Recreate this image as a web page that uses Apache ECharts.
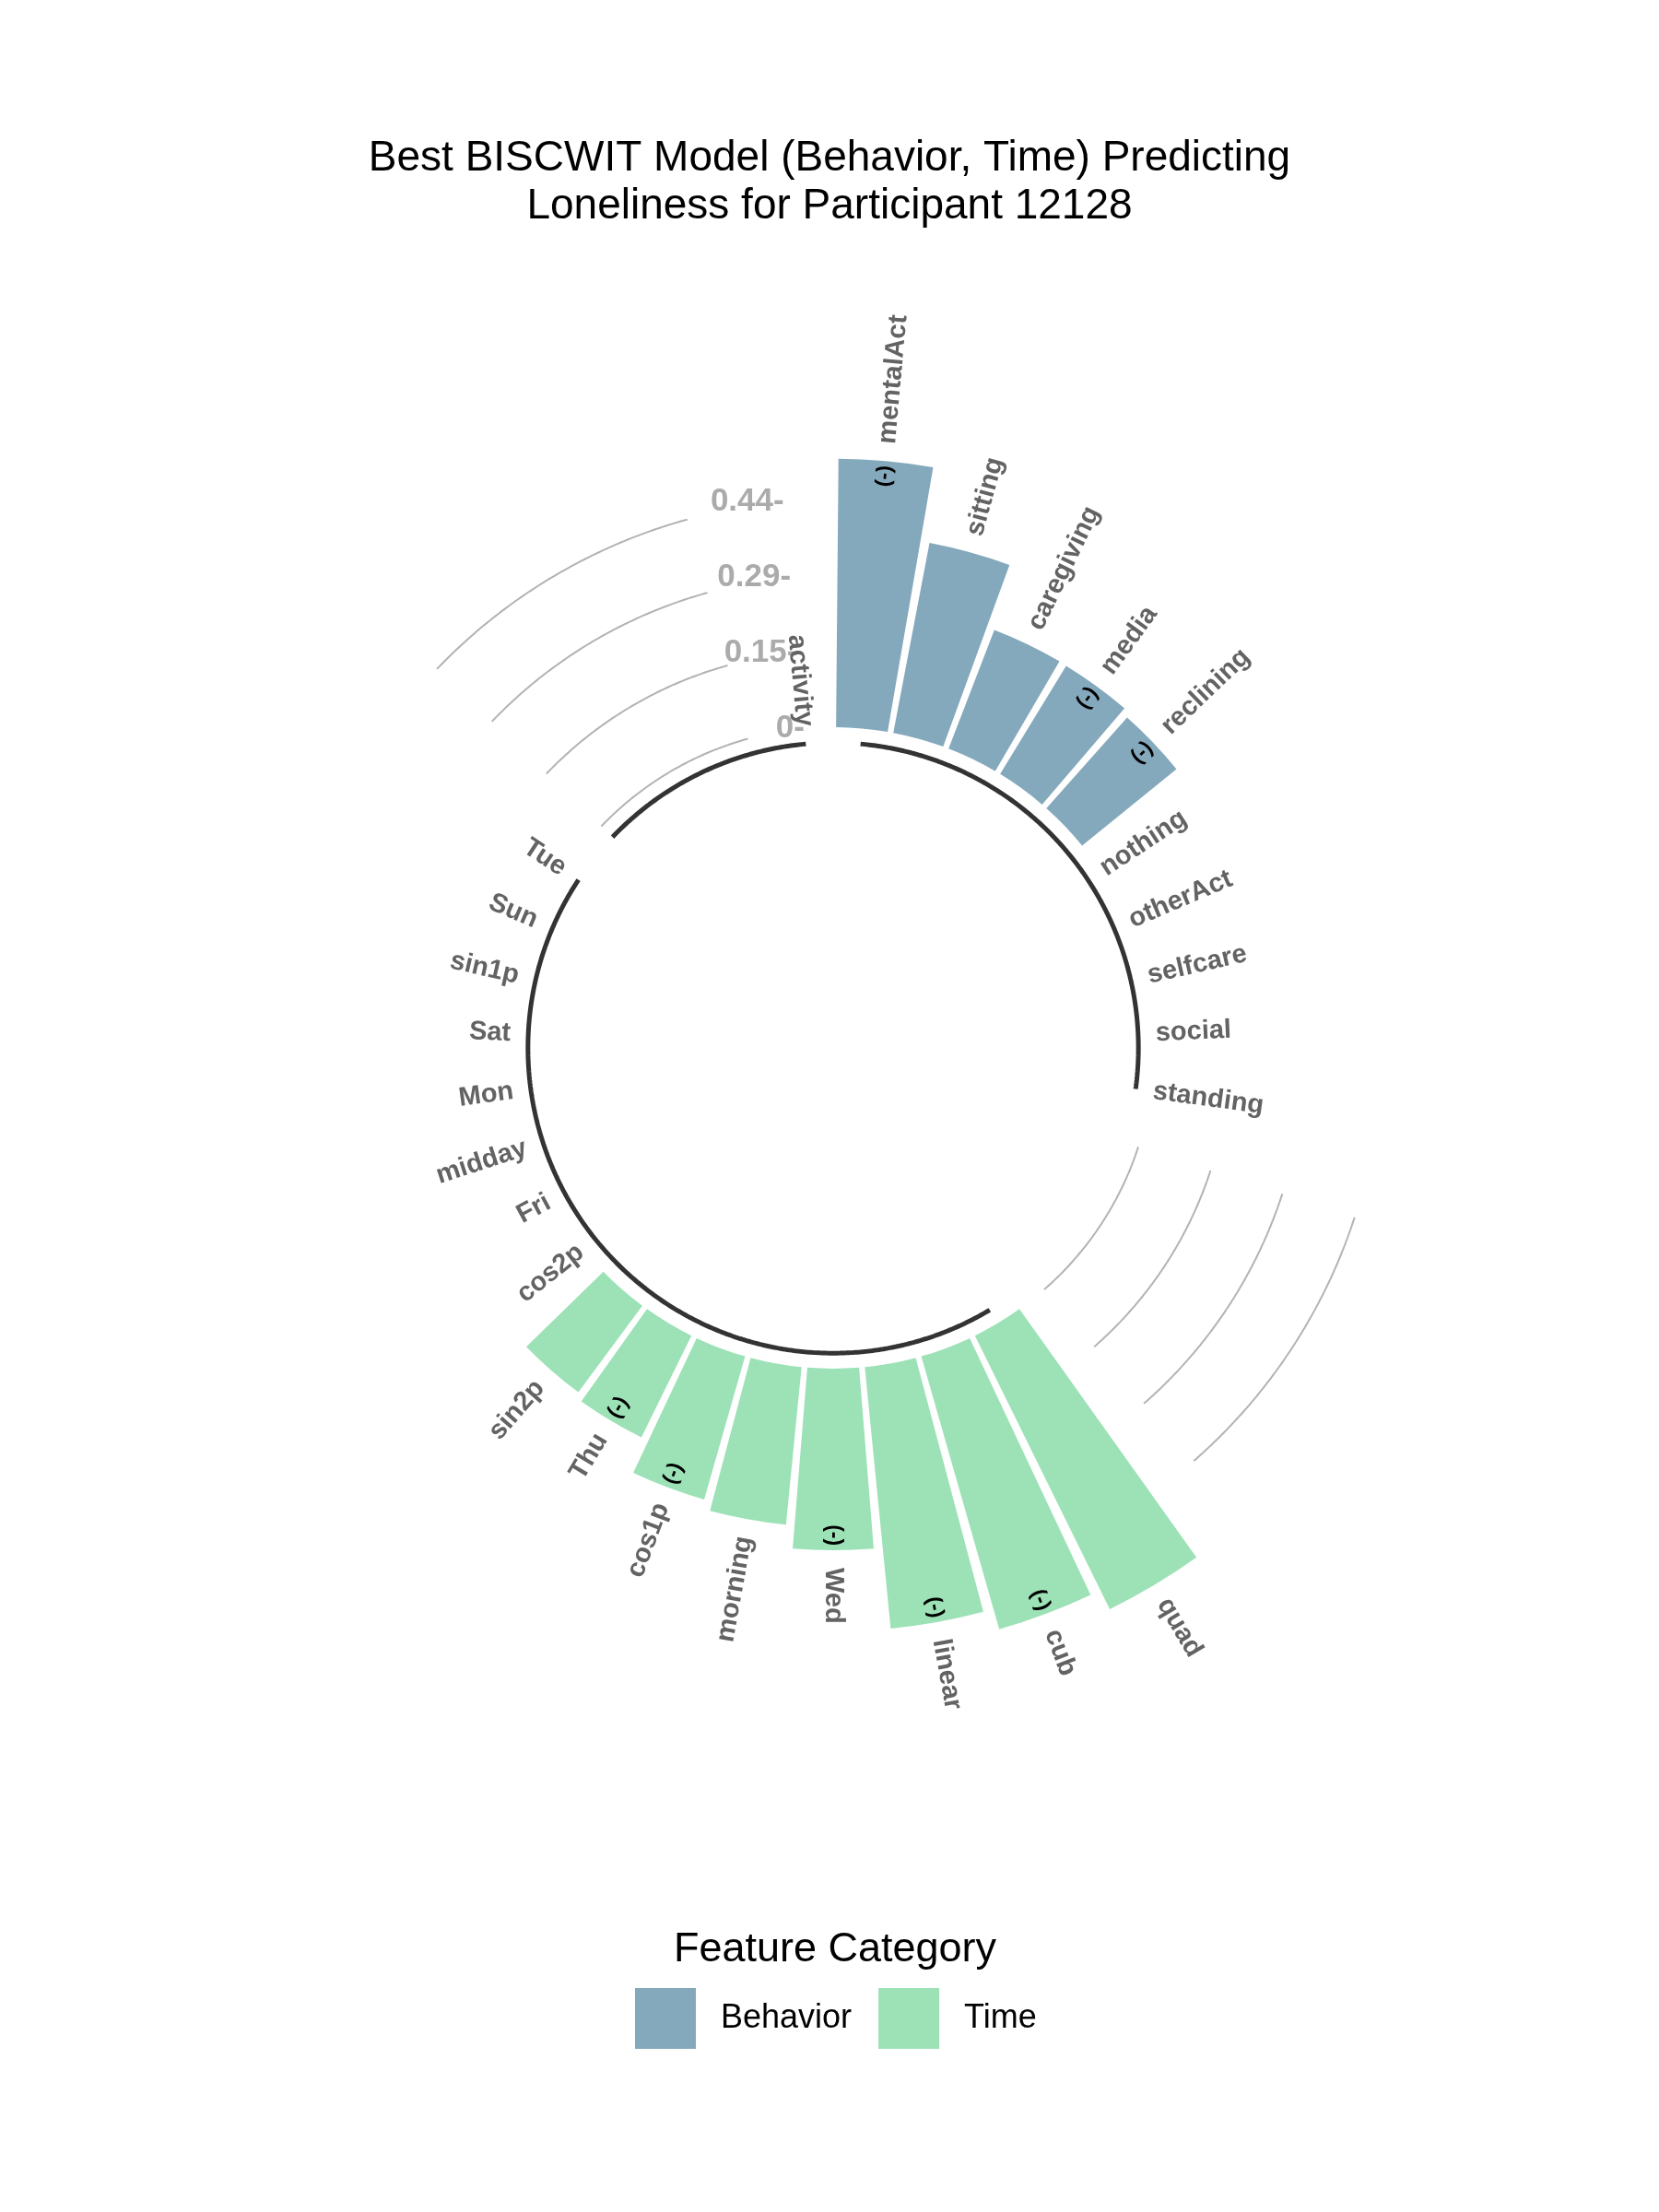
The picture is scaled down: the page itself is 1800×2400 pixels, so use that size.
<!DOCTYPE html>
<html>
<head>
<meta charset="utf-8">
<script src="https://cdn.jsdelivr.net/npm/echarts@6/dist/echarts.min.js"></script>
<style>
html, body { margin: 0; padding: 0; background: #ffffff; }
#chart { width: 1800px; height: 2400px; }
</style>
</head>
<body>
<div id="chart"></div>
<script>
// ---------------- data ----------------
const behaviorFeatures = ['activity', 'mentalAct', 'sitting', 'caregiving', 'media', 'reclining',
  'nothing', 'otherAct', 'selfcare', 'social', 'standing'];
const behaviorCoefs = [0, -0.519, 0.374, 0.246, -0.245, -0.235, 0, 0, 0, 0, 0];

const timeFeatures = ['quad', 'cub', 'linear', 'Wed', 'morning', 'cos1p', 'Thu', 'sin2p',
  'cos2p', 'Fri', 'midday', 'Mon', 'Sat', 'sin1p', 'Sun', 'Tue'];
const timeCoefs = [0.590, -0.549, -0.508, -0.351, 0.306, -0.288, -0.219, 0.208,
  0, 0, 0, 0, 0, 0, 0, 0];

const groupNames = ['Behavior', 'Time'];
const groupColors = ['#85A9BC', '#9DE2B7'];
const emptyBars = 4;

const tickValues = [0, 0.147, 0.293, 0.44];
const tickLabels = ['0-', '0.15-', '0.29-', '0.44-'];

const titleText = 'Best BISCWIT Model (Behavior, Time) Predicting\nLoneliness for Participant 12128';
const legendTitle = 'Feature Category';

// ---------------- layout ----------------
const FONT = '"Liberation Sans", Arial, Helvetica, sans-serif';
const CENTER = [904, 1137];
const ZERO_R = 348;          // pixel radius of value 0
const PX_PER_UNIT = 561;     // pixels per unit of coefficient
const R_MIN = -ZERO_R / PX_PER_UNIT;
const R_MAX = 0.7;
const OUTER = ZERO_R + PX_PER_UNIT * R_MAX;

// positions around the circle
const categories = [];
const behaviorPos = [], timePos = [];
behaviorFeatures.forEach((f) => { behaviorPos.push(categories.length); categories.push(f); });
const gap1Start = categories.length;
for (let i = 0; i < emptyBars; i++) categories.push('gapA' + i);
timeFeatures.forEach((f) => { timePos.push(categories.length); categories.push(f); });
const gap2Start = categories.length;
for (let i = 0; i < emptyBars; i++) categories.push('gapB' + i);
const N = categories.length;
const START_ANGLE = 90 + 360 / N;

// bar data
const behaviorBar = categories.map(() => '-');
behaviorCoefs.forEach((c, i) => { if (c !== 0) behaviorBar[behaviorPos[i]] = Math.abs(c); });
const timeBar = categories.map(() => '-');
timeCoefs.forEach((c, i) => { if (c !== 0) timeBar[timePos[i]] = Math.abs(c); });

// label items
const featureLabels = [];
const signLabels = [];
function addLabels(names, coefs, pos) {
  names.forEach((n, i) => {
    const v = Math.abs(coefs[i]);
    featureLabels.push([v > 0 ? v + 0.034 : 0.004, pos[i] + 0.5, n]);
    if (coefs[i] < 0) signLabels.push([v - 0.029, pos[i] + 0.5, '(-)']);
  });
}
addLabels(behaviorFeatures, behaviorCoefs, behaviorPos);
addLabels(timeFeatures, timeCoefs, timePos);
const tickLabelData = tickValues.map((t, i) => [t, behaviorPos[0] + 0.5, tickLabels[i]]);

// arcs
function arcPoints(r, a0, a1) {
  const pts = [];
  const steps = Math.max(2, Math.ceil((a1 - a0) / 0.02));
  for (let k = 0; k <= steps; k++) pts.push([r, a0 + (a1 - a0) * k / steps]);
  return pts;
}
function arcSeries(pts, color, width) {
  return {
    type: 'line', coordinateSystem: 'polar', polarIndex: 1,
    data: pts, showSymbol: false, symbol: 'none', smooth: false, silent: true,
    lineStyle: { color: color, width: width, cap: 'butt' }, z: 1
  };
}
const arcList = [];
const baseV = -0.03;
// base arcs
arcList.push(arcSeries(arcPoints(baseV, gap2Start + 0.5, N + behaviorPos[0] + 0.5), '#333333', 5));
arcList.push(arcSeries(arcPoints(baseV, behaviorPos[1] + 0.5, behaviorPos[behaviorPos.length - 1] + 0.5), '#333333', 5));
arcList.push(arcSeries(arcPoints(baseV, timePos[0] + 0.5, timePos[timePos.length - 1] + 0.5), '#333333', 5));
// grid arcs in the gaps
tickValues.forEach((t) => {
  arcList.push(arcSeries(arcPoints(t, gap1Start + 0.5, gap1Start + emptyBars - 0.5), '#b3b3b3', 2));
  arcList.push(arcSeries(arcPoints(t, gap2Start + 0.5, gap2Start + emptyBars - 0.5), '#b3b3b3', 2));
});

function compassAngle(pt, cs) {
  let t = Math.atan2(pt[0] - cs.cx, cs.cy - pt[1]) * 180 / Math.PI;
  return (t + 360) % 360;
}

function radialText(color, size, weight, centered) {
  return function (params, api) {
    const pt = api.coord([api.value(0), api.value(1)]);
    const t = compassAngle(pt, params.coordSys);
    let rot, align;
    if (t <= 180.5) { rot = 90 - t; align = 'left'; } else { rot = 270 - t; align = 'right'; }
    if (centered) align = 'center';
    return {
      type: 'text', x: pt[0], y: pt[1], rotation: rot * Math.PI / 180,
      style: {
        text: api.value(2), align: align, verticalAlign: 'middle',
        fill: color, fontSize: size, fontWeight: weight, fontFamily: FONT
      }
    };
  };
}

const chart = echarts.init(document.getElementById('chart'), null, { renderer: 'canvas' });
const hiddenAxis = {
  axisLine: { show: false }, axisTick: { show: false },
  axisLabel: { show: false }, splitLine: { show: false }
};
chart.setOption({
  animation: false,
  backgroundColor: '#ffffff',
  title: [
    {
      text: titleText, left: 'center', top: 146, padding: 0,
      textStyle: { fontFamily: FONT, fontSize: 46, fontWeight: 'normal', color: '#000000', lineHeight: 52 }
    },
    {
      text: legendTitle, left: 906, top: 2090, padding: 0, textAlign: 'center',
      textStyle: { fontFamily: FONT, fontSize: 45, fontWeight: 'normal', color: '#000000', lineHeight: 52 }
    }
  ],
  legend: {
    data: groupNames, icon: 'rect', left: 689, top: 2157, padding: 0,
    itemWidth: 66, itemHeight: 66, itemGap: 29, selectedMode: false,
    textStyle: { fontFamily: FONT, fontSize: 36, color: '#000000', padding: [16, 0, 0, 22] }
  },
  polar: [
    { center: CENTER, radius: [0, OUTER] },
    { center: CENTER, radius: [0, OUTER] }
  ],
  angleAxis: [
    Object.assign({ polarIndex: 0, type: 'category', data: categories, startAngle: START_ANGLE, clockwise: true, boundaryGap: true }, hiddenAxis),
    Object.assign({ polarIndex: 1, type: 'value', min: 0, max: N, startAngle: START_ANGLE, clockwise: true }, hiddenAxis)
  ],
  radiusAxis: [
    Object.assign({ polarIndex: 0, type: 'value', min: R_MIN, max: R_MAX }, hiddenAxis),
    Object.assign({ polarIndex: 1, type: 'value', min: R_MIN, max: R_MAX }, hiddenAxis)
  ],
  series: [
    {
      name: groupNames[0], type: 'bar', coordinateSystem: 'polar', polarIndex: 0,
      data: behaviorBar, barWidth: '90%', stack: 'features',
      itemStyle: { color: groupColors[0] }, z: 2
    },
    {
      name: groupNames[1], type: 'bar', coordinateSystem: 'polar', polarIndex: 0,
      data: timeBar, barWidth: '90%', stack: 'features',
      itemStyle: { color: groupColors[1] }, z: 2
    },
    ...arcList,
    {
      type: 'custom', coordinateSystem: 'polar', polarIndex: 1, silent: true, z: 5,
      data: featureLabels, renderItem: radialText('#636363', 29, 'bold', false)
    },
    {
      type: 'custom', coordinateSystem: 'polar', polarIndex: 1, silent: true, z: 6,
      data: signLabels, renderItem: radialText('#000000', 23, 'bold', true)
    },
    {
      type: 'custom', coordinateSystem: 'polar', polarIndex: 1, silent: true, z: 4,
      data: tickLabelData,
      renderItem: function (params, api) {
        const pt = api.coord([api.value(0), api.value(1)]);
        return {
          type: 'text', x: pt[0], y: pt[1],
          style: {
            text: api.value(2), align: 'right', verticalAlign: 'middle',
            fill: '#ababab', fontSize: 35, fontWeight: 'bold', fontFamily: FONT
          }
        };
      }
    }
  ]
});
</script>
</body>
</html>
